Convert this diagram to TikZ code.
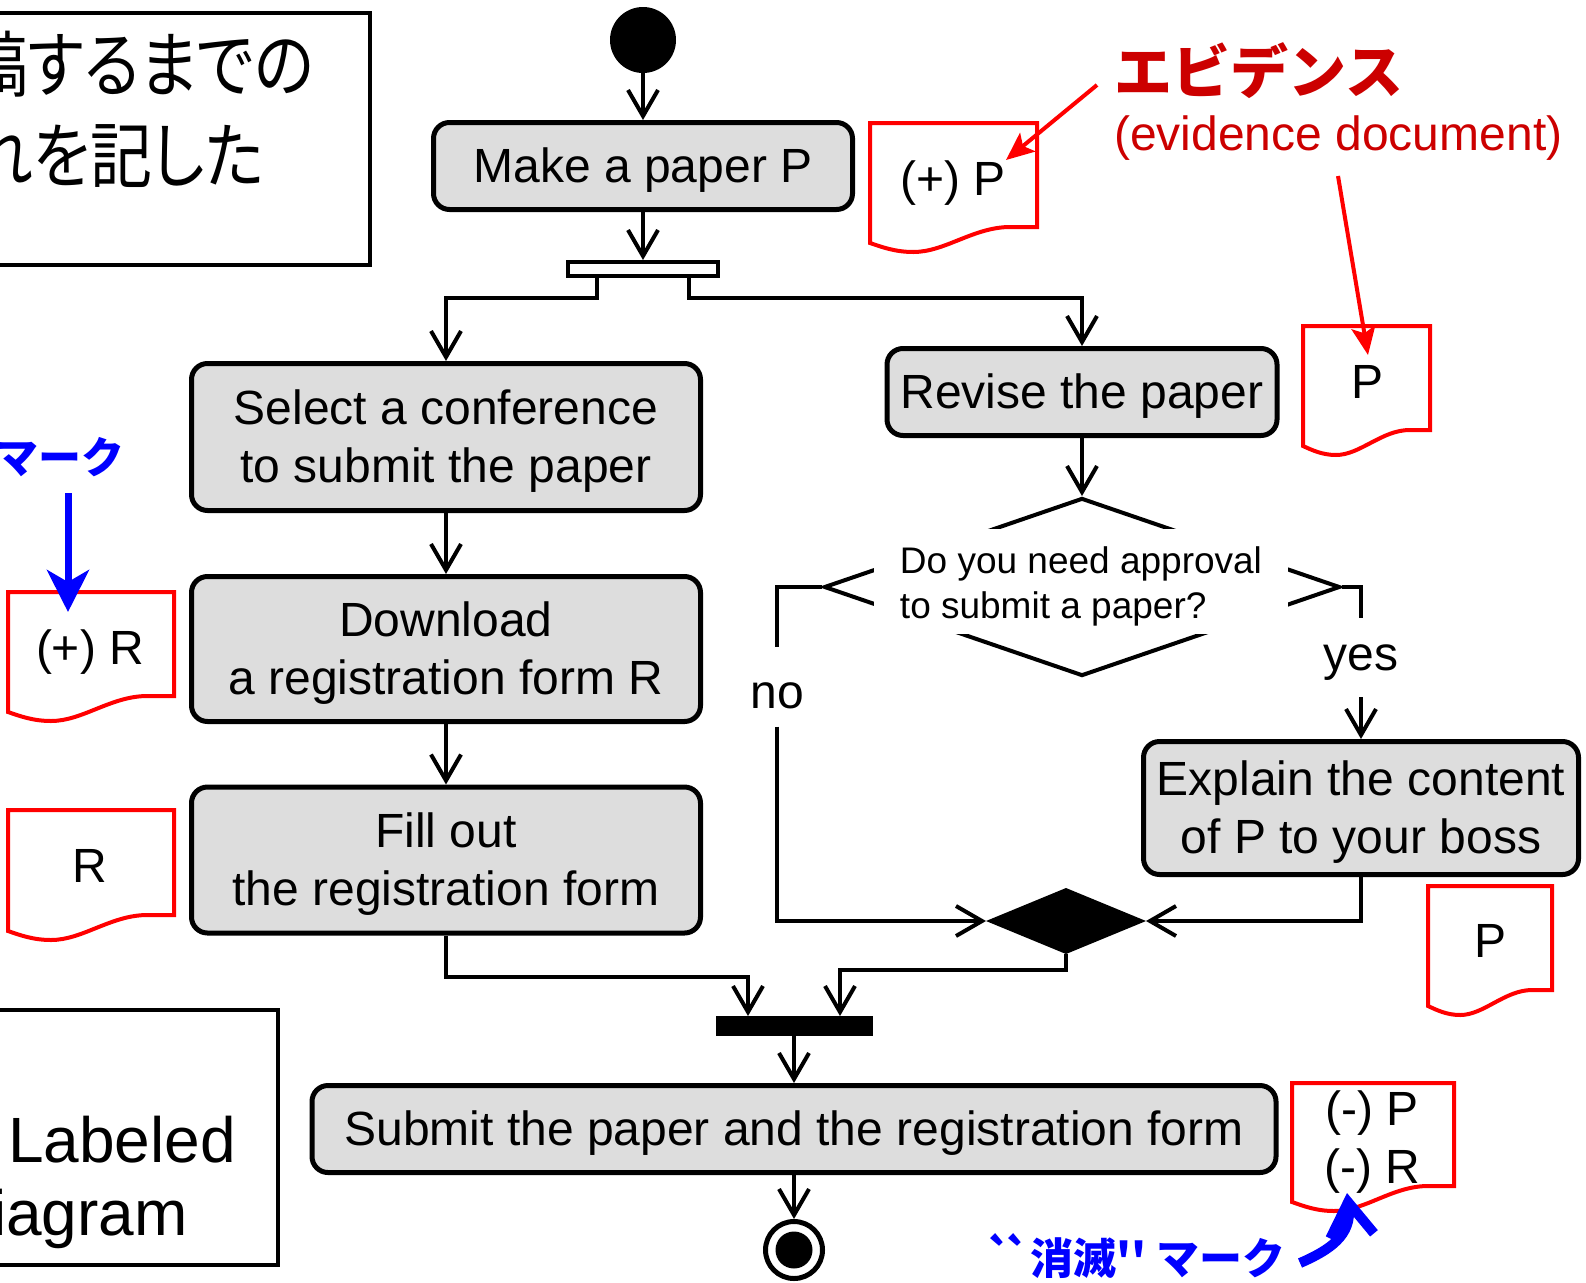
\documentclass[tikz,border=0pt]{standalone}
\usepackage{fontspec}
\setmainfont{Liberation Sans}
\newfontfamily\cjk{Noto Sans CJK JP}
\newfontfamily\cjkp[RawFeature=+palt, FakeStretch=0.86]{Noto Sans CJK JP}
\usetikzlibrary{arrows.meta,shapes.geometric,calc}
\definecolor{boxgray}{RGB}{221,221,221}
\definecolor{evred}{RGB}{204,0,0}
\definecolor{docred}{RGB}{255,0,0}
\definecolor{markblue}{RGB}{0,0,255}
\newcommand\bxfont{\fontsize{48}{58}\selectfont}
\newcommand\qfont{\fontsize{37}{45}\selectfont}
\newcommand\lbfont{\fontsize{64}{73}\selectfont}
\newcommand\jpfont{\cjkp\fontsize{72}{80}\selectfont}
\newcommand\markfont{\cjk\bfseries\fontsize{43}{50}\selectfont}
\newcommand\evjfont{\cjk\bfseries\fontsize{58}{64}\selectfont}
\newcommand\docshape[4]{%
  \begin{scope}[shift={(#1,#2)}]
    \draw[docline] (0,0) -- (#3,0) -- (#3,#4) -- ({0.84*#3},#4)
      .. controls ({0.62*#3},#4) and ({0.45*#3},{#4+25}) .. ({0.26*#3},{#4+25})
      .. controls ({0.15*#3},{#4+25}) and ({0.07*#3},{#4+20}) .. (0,{#4+16}) -- cycle;
  \end{scope}}
\begin{document}
\begin{tikzpicture}[x=1pt,y=-1pt,
  act/.style={draw, line width=5pt, fill=boxgray, rounded corners=16pt, align=center, font=\bxfont, inner sep=0pt},
  one/.style={text height=42pt, text depth=10pt},
  two/.style={text height=100pt, text depth=10pt},
  flow/.style={line width=4pt, -{Straight Barb[length=26pt,width=30pt]}},
  plain/.style={line width=4pt},
  docline/.style={draw=docred, line width=4pt, fill=white},
  doctext/.style={font=\bxfont, align=center, inner sep=0pt},
  evarrow/.style={docred, line width=4pt, -{Stealth[length=28pt,width=24pt,inset=6pt]}},
  markarrow/.style={markblue, line width=7pt, -{Stealth[length=42pt,width=42pt,inset=12pt]}},
  framebox/.style={draw, line width=4pt, inner sep=0pt},
]
\useasboundingbox (0,0) rectangle (1586,1282);
\clip (0,0) rectangle (1586,1282);

% side boxes
\node[framebox, minimum width=420pt, minimum height=252pt] (titlebox) at (160,139) {};
\node[anchor=base east, inner sep=0pt, font=\jpfont] (jp1) at (314,91) {稿するまでの};
\node[anchor=base east, inner sep=0pt, font=\jpfont] (jp2) at (264,182) {れを記した};
\node[framebox, minimum width=328pt, minimum height=255pt] (labelbox) at (114,1137.5) {};
\node[anchor=base west, inner sep=0pt, font=\lbfont] (lb1) at (8,1162) {Labeled};
\node[anchor=base east, inner sep=0pt, font=\lbfont] (lb2) at (188,1235) {iagram};

% activity nodes
\node[circle, fill=black, minimum size=66pt, inner sep=0pt] (start) at (643,40) {};
\node[act, one, minimum width=419pt, minimum height=87pt] (make) at (643,166) {Make a paper P};
\node[draw, fill=white, line width=4pt, minimum width=150pt, minimum height=14pt, inner sep=0pt] (fork) at (643,269) {};
\node[act, two, minimum width=509pt, minimum height=147pt] (select) at (446,437) {Select a conference\\to submit the paper};
\node[act, two, minimum width=509pt, minimum height=145pt] (download) at (446,649) {Download\\a registration form R};
\node[act, two, minimum width=509pt, minimum height=146pt] (fillout) at (446,860) {Fill out\\the registration form};
\node[act, one, minimum width=390pt, minimum height=87pt] (revise) at (1082,392) {Revise the paper};
\node[diamond, draw, line width=4pt, minimum width=516pt, minimum height=178pt, inner sep=0pt] (dec) at (1082,587) {};
\node[fill=white, align=left, font=\qfont, inner xsep=26pt, inner ysep=0pt, minimum height=105pt, text height=80pt, text depth=7pt] (q) at (1081,581.5) {Do you need approval\\to submit a paper?};
\node[font=\bxfont, inner sep=0pt, minimum height=79pt, text height=42pt, text depth=0pt] (no) at (777,687) {no};
\node[font=\bxfont, inner sep=0pt, minimum height=79pt, text height=35pt, text depth=10pt] (yes) at (1361,657.5) {yes};
\node[act, two, minimum width=435pt, minimum height=133pt] (explain) at (1361,808) {Explain the content\\of P to your boss};
\node[diamond, fill=black, minimum width=160pt, minimum height=66pt, inner sep=0pt, outer sep=0pt] (merge) at (1066,921) {};
\node[fill=black, minimum width=157pt, minimum height=20pt, inner sep=0pt, outer sep=0pt] (join) at (794,1026) {};
\node[act, one, minimum width=964pt, minimum height=87pt] (submit) at (794,1129) {Submit the paper and the registration form};
\node[circle, draw, line width=5pt, minimum size=57pt, inner sep=0pt] (end) at (794,1250) {};
\node[circle, fill=black, minimum size=37pt, inner sep=0pt] (endin) at (end) {};

% connectors
\draw[flow] (start) -- (make);
\draw[flow] (make) -- (fork);
\draw[flow] ([xshift=-46pt]fork.south) -- ++(0,20) -| (select.north);
\draw[flow] ([xshift=46pt]fork.south) -- ++(0,20) -| (revise.north);
\draw[flow] (select) -- (download);
\draw[flow] (download) -- (fillout);
\draw[flow] (fillout.south) -- ++(0,41) -| ([xshift=-46pt]join.north);
\draw[flow] (merge.south) -- ++(0,16) -| ([xshift=46pt]join.north);
\draw[flow] (join) -- (submit);
\draw[flow] (submit) -- (end);
\draw[flow] (revise) -- (dec);
\draw[plain] (dec.west) -| (no.north);
\draw[flow] (no.south) |- (merge.west);
\draw[plain] (dec.east) -| (yes.north);
\draw[flow] (yes.south) -- (explain.north);
\draw[flow] (explain.south) |- (merge.east);

% evidence documents
\docshape{870}{123}{167}{104}
\node[doctext, one] (docP1) at (953,179) {(+) P};
\docshape{1303}{326}{127}{104}
\node[doctext, one] (docP2) at (1367,382) {P};
\docshape{8}{592}{166}{104}
\node[doctext, one] (docR1) at (90,648) {(+) R};
\docshape{8}{810}{166}{105}
\node[doctext, one] (docR2) at (90,866) {R};
\docshape{1428}{886}{124}{104}
\node[doctext, one] (docP3) at (1490,941) {P};
\docshape{1292}{1083}{162}{103}
\node[doctext, two] (docPR) at (1372,1138) {(-) P\\(-) R};

% annotations
\node[anchor=base west, inner sep=0pt, text=evred, font=\evjfont] (evj) at (1114,93) {エビデンス};
\node[anchor=base west, inner sep=0pt, text=evred, font=\bxfont] (eve) at (1114,150) {(evidence document)};
\coordinate (ev1s) at (1097,85);
\coordinate (ev1t) at (1006,160);
\draw[evarrow] (ev1s) -- (ev1t);
\coordinate (ev2s) at (1338,176);
\coordinate (ev2t) at (1368,355);
\draw[evarrow] (ev2s) -- (ev2t);

\node[anchor=base east, inner sep=0pt, text=markblue, font=\markfont] (mk1) at (125,473) {マーク};
\coordinate (mk1s) at (68,493);
\coordinate (mk1t) at (68,612);
\draw[markarrow] (mk1s) -- (mk1t);
\node[anchor=base west, inner sep=0pt, text=markblue, font=\markfont] (mk2) at (986,1274) {`\kern-9pt`\kern-2pt 消滅'' マーク};
\coordinate (mk2s) at (1300,1263);
\coordinate (mk2t) at (1347,1193);
\draw[markblue, line width=10pt, -{Straight Barb[length=34pt,width=44pt]}] (mk2s) .. controls (1330,1250) and (1352,1235) .. (mk2t);
\end{tikzpicture}
\end{document}
